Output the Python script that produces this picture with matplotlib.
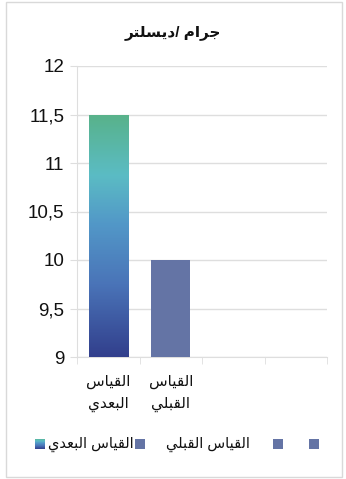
import numpy as np
import matplotlib
matplotlib.use("Agg")
import matplotlib.pyplot as plt
from matplotlib.colors import LinearSegmentedColormap
from matplotlib.patches import Rectangle
from matplotlib.ticker import FuncFormatter, FixedLocator

plt.rcParams['font.family'] = ['Liberation Sans', 'DejaVu Sans']

# ---- data ----
categories = ["القياس البعدي", "القياس القبلي", "", ""]
values = [11.5, 10.0]
series_names = ["القياس البعدي", "القياس القبلي", "", ""]
title = "جرام /ديسلتر"
y_ticks = [9, 9.5, 10, 10.5, 11, 11.5, 12]

# ---- minimal Arabic shaping (presentation forms) ----
FORMS = {
    'ا': (0xFE8D, 0xFE8E), 'د': (0xFEA9, 0xFEAA), 'ر': (0xFEAD, 0xFEAE),
    'ب': (0xFE8F, 0xFE90, 0xFE91, 0xFE92), 'ت': (0xFE95, 0xFE96, 0xFE97, 0xFE98),
    'ج': (0xFE9D, 0xFE9E, 0xFE9F, 0xFEA0), 'س': (0xFEB1, 0xFEB2, 0xFEB3, 0xFEB4),
    'ع': (0xFEC9, 0xFECA, 0xFECB, 0xFECC), 'ق': (0xFED5, 0xFED6, 0xFED7, 0xFED8),
    'ل': (0xFEDD, 0xFEDE, 0xFEDF, 0xFEE0), 'م': (0xFEE1, 0xFEE2, 0xFEE3, 0xFEE4),
    'ي': (0xFEF1, 0xFEF2, 0xFEF3, 0xFEF4),
}


def shape_line(s):
    out = []
    for i, ch in enumerate(s):
        if ch not in FORMS:
            out.append(ch)
            continue
        prev = s[i - 1] if i > 0 else ''
        nxt = s[i + 1] if i + 1 < len(s) else ''
        p = prev in FORMS and len(FORMS[prev]) == 4
        n = nxt in FORMS and len(FORMS[ch]) == 4
        f = FORMS[ch]
        if p and n:
            out.append(chr(f[3]))
        elif p:
            out.append(chr(f[1]))
        elif n:
            out.append(chr(f[2]))
        else:
            out.append(chr(f[0]))
    return ''.join(out)[::-1]


def ar(s, wrap=False):
    lines = s.split(' ') if wrap else [s]
    return '\n'.join(shape_line(l) for l in lines)


# ---- figure ----
W, H = 346, 479
fig = plt.figure(figsize=(W / 100, H / 100), dpi=100)
fig.patch.set_facecolor('white')
fig.add_artist(Rectangle((6 / W, 2 / H), 336 / W, 475 / H, transform=fig.transFigure,
                         fill=False, edgecolor='#d9d9d9', linewidth=1.0))

ax = fig.add_axes([77 / W, 1 - 357 / H, 250 / W, (357 - 66) / H])
x = np.arange(len(categories))
grid_c = '#dedede'

bar_w = 0.63
bars = ax.bar(x[:len(values)], [v - 9 for v in values], bottom=9, width=bar_w,
              color=['none', '#6474a5'], zorder=3)

# gradient fill for the first bar
grad = LinearSegmentedColormap.from_list(
    'g', [(0.0, '#323f8c'), (0.3, '#4a74b8'), (0.55, '#5298c8'),
          (0.75, '#5bbcc4'), (1.0, '#58b28a')])
b0 = bars[0]
x0, y0 = b0.get_x(), b0.get_y()
img = ax.imshow(np.linspace(0, 1, 256).reshape(-1, 1), cmap=grad, origin='lower',
                extent=[x0, x0 + b0.get_width(), y0, y0 + b0.get_height()],
                aspect='auto', zorder=3)
img.set_clip_path(b0)
ax.set_xlim(-0.5, len(categories) - 0.5)
ax.set_ylim(9, 12)

ax.yaxis.set_major_locator(FixedLocator(y_ticks))
ax.yaxis.set_major_formatter(FuncFormatter(lambda v, p: f"{v:g}".replace('.', ',')))
ax.grid(axis='y', color=grid_c, linewidth=1.0, zorder=0)
ax.tick_params(axis='y', length=5, color=grid_c, labelsize=13.5, pad=4, labelcolor='#111111')

ax.set_xticks(x)
ax.set_xticklabels([ar(c, wrap=True) for c in categories], fontsize=11, linespacing=1.65)
ax.tick_params(axis='x', length=0, pad=13, labelcolor='#111111')
ax.set_xticks(np.arange(-0.5, len(categories), 1.0), minor=True)
ax.tick_params(axis='x', which='minor', length=5, color=grid_c)

for s in ['top', 'right']:
    ax.spines[s].set_visible(False)
for s in ['left', 'bottom']:
    ax.spines[s].set_color(grid_c)

fig.text(0.5, 1 - 33 / H, ar(title), ha='center', va='center', fontsize=11,
         fontweight='bold', color='#111111')

# ---- legend ----
sq = 10
ly = 444
legend_items = [
    (35, 'grad', 48, series_names[0]),
    (135, '#6474a5', 166, series_names[1]),
    (273, '#6474a5', None, series_names[2]),
    (309, '#6474a5', None, series_names[3]),
]
for sx, col, tx, name in legend_items:
    if col == 'grad':
        lax = fig.add_axes([sx / W, 1 - (ly + sq / 2) / H, sq / W, sq / H])
        lax.imshow(np.linspace(0, 1, 64).reshape(-1, 1), cmap=grad, origin='lower',
                   aspect='auto')
        lax.set_axis_off()
    else:
        fig.add_artist(Rectangle((sx / W, 1 - (ly + sq / 2) / H), sq / W, sq / H,
                                 transform=fig.transFigure, facecolor=col, edgecolor='none'))
    if tx is not None and name:
        fig.text(tx / W, 1 - ly / H, ar(name), ha='left', va='center', fontsize=10.5,
                 color='#111111')

fig.savefig('out.png', dpi=100)
